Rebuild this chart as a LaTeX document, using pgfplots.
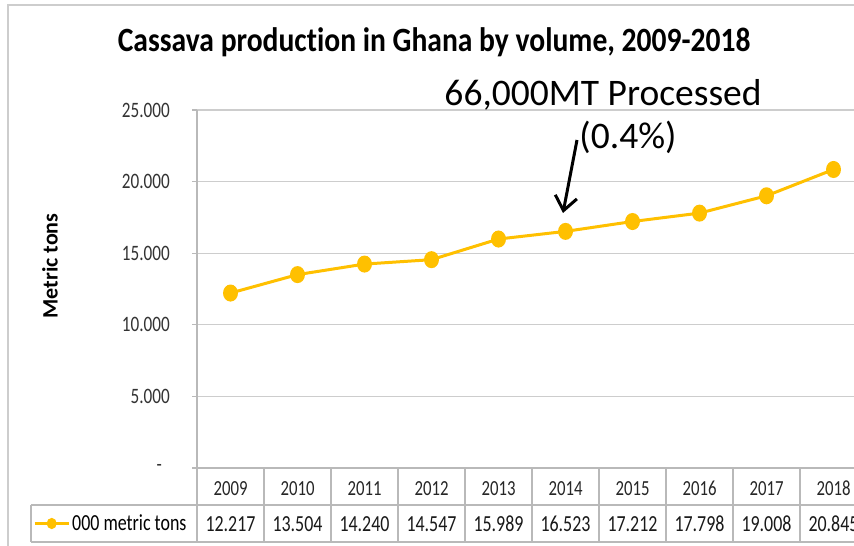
\documentclass[border=0pt]{standalone}
\usepackage{pgfplots}
\pgfplotsset{compat=1.18}
\usepackage{fontspec}
\setmainfont[Ligatures=NoCommon]{Carlito}
\newfontfamily\cfont[FakeStretch=0.78,Ligatures=NoCommon]{Carlito}
\newfontfamily\tfont[FakeStretch=0.87,Ligatures=NoCommon]{Carlito}
\usetikzlibrary{arrows.meta}
\definecolor{gold}{RGB}{255,192,0}
\definecolor{gridc}{RGB}{205,205,205}
\definecolor{tabc}{RGB}{185,185,185}
\newcommand{\fs}[1]{\fontsize{#1}{#1}\selectfont}
\begin{document}
\begin{tikzpicture}[x=1bp,y=1bp]
\path[use as bounding box, fill=white] (0,0) rectangle (854,546);
\draw[gridc, line width=1.5bp] (8,0) -- (8,541) -- (854,541);
\begin{axis}[
  at={(197bp,78bp)}, anchor=south west, scale only axis,
  width=670bp, height=358bp,
  xmin=-0.5, xmax=9.5, ymin=0, ymax=25000,
  axis x line=bottom, axis y line=left,
  axis line style={draw=tabc, line width=1.2bp, -},
  xtick=\empty,
  ytick={0,5000,10000,15000,20000,25000},
  scaled y ticks=false,
  yticklabels={{-\hspace*{8bp}},5.000,10.000,15.000,20.000,25.000},
  ymajorgrids, grid style={draw=gridc, line width=1.2bp},
  tick align=outside, major tick length=5bp,
  tick style={draw=tabc, line width=1.2bp},
  yticklabel style={font=\cfont\fs{22bp}, text=black!80, inner sep=0pt, xshift=-22bp},
  /pgf/number format/assume math mode=true,
  title={Cassava production in Ghana by volume, 2009-2018},
  title style={at={(axis description cs:0.354,1.1453)}, anchor=base, font=\tfont\fs{34bp}\bfseries},
  ylabel={Metric tons},
  ylabel style={at={(axis description cs:-0.2194,0.564)}, anchor=center, font=\fs{22bp}\bfseries},
  legend entries={000 metric tons},
  legend style={at={(axis description cs:-0.2448,-0.155)}, anchor=west, draw=none, fill=none,
    font=\cfont\fs{23bp}, inner sep=0pt},
  legend cell align=left,
  legend image code/.code={\draw[mark repeat=2,mark phase=2,#1,mark size=4bp]
     plot coordinates {(0bp,0bp) (17bp,0bp) (34bp,0bp)};},
  clip=false,
]
\addplot[gold, line width=3bp, mark=*, mark size=7bp, mark options={fill=gold, draw=gold, xscale=0.85}]
  coordinates {(0,12217)(1,13504)(2,14240)(3,14547)(4,15989)(5,16523)(6,17212)(7,17798)(8,19008)(9,20845)};
\end{axis}
\draw[tabc, line width=1.2bp] (31,41) -- (867,41);
\draw[tabc, line width=1.2bp] (31,4) -- (867,4);
\draw[tabc, line width=1.2bp] (31,41) -- (31,4);
\foreach \k in {0,...,10} {\draw[tabc, line width=1.2bp] ({197+67*\k},78) -- ({197+67*\k},4);}
\foreach \i/\yr/\v in {0/2009/12.217,1/2010/13.504,2/2011/14.240,3/2012/14.547,4/2013/15.989,5/2014/16.523,6/2015/17.212,7/2016/17.798,8/2017/19.008,9/2018/20.845} {
  \node[font=\cfont\fs{21.5bp}, text=black!85, anchor=base] at ({230.5+67*\i},50) {\yr};
  \node[font=\cfont\fs{23bp}, text=black!90, anchor=base] at ({230.5+67*\i},14) {\v};
}
\node[font=\fs{37.5bp}] at (603,451) {66,000MT Processed};
\node[font=\fs{37.5bp}] at (628,409) {(0.4\%)};
\draw[line width=3bp, -{Straight Barb[length=14bp,width=22bp]}] (577,406) -- (563,333);
\end{tikzpicture}
\end{document}
